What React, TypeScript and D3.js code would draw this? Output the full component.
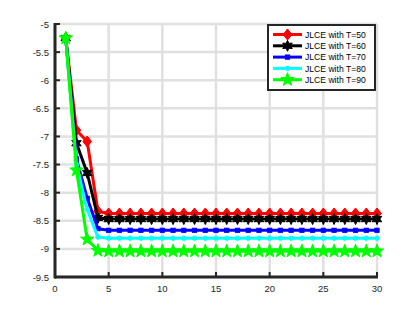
import React from "react";
import * as d3 from "d3";

const xValues = [1,2,3,4,5,6,7,8,9,10,11,12,13,14,15,16,17,18,19,20,21,22,23,24,25,26,27,28,29,30];
const seriesNames = ["JLCE with T=50", "JLCE with T=60", "JLCE with T=70", "JLCE with T=80", "JLCE with T=90"];
const colors = ["#ff0000", "#000000", "#0000ff", "#00ffff", "#00ff00"];
const markers = ["diamond", "hexagram", "square", "circle", "pentagram"];
const head50 = [-5.25, -6.89, -7.09, -8.33];
const head60 = [-5.25, -7.12, -7.65, -8.45];
const head70 = [-5.25, -7.4, -8.1, -8.64];
const head80 = [-5.25, -7.5, -8.3, -8.79];
const head90 = [-5.25, -7.6, -8.83, -9.03];
const tail50 = [-8.37,-8.37,-8.37,-8.37,-8.37,-8.37,-8.37,-8.37,-8.37,-8.37,-8.37,-8.37,-8.37,-8.37,-8.37,-8.37,-8.37,-8.37,-8.37,-8.37,-8.37,-8.37,-8.37,-8.37,-8.37,-8.37];
const tail60 = [-8.47,-8.47,-8.47,-8.47,-8.47,-8.47,-8.47,-8.47,-8.47,-8.47,-8.47,-8.47,-8.47,-8.47,-8.47,-8.47,-8.47,-8.47,-8.47,-8.47,-8.47,-8.47,-8.47,-8.47,-8.47,-8.47];
const tail70 = [-8.67,-8.67,-8.67,-8.67,-8.67,-8.67,-8.67,-8.67,-8.67,-8.67,-8.67,-8.67,-8.67,-8.67,-8.67,-8.67,-8.67,-8.67,-8.67,-8.67,-8.67,-8.67,-8.67,-8.67,-8.67,-8.67];
const tail80 = [-8.81,-8.81,-8.81,-8.81,-8.81,-8.81,-8.81,-8.81,-8.81,-8.81,-8.81,-8.81,-8.81,-8.81,-8.81,-8.81,-8.81,-8.81,-8.81,-8.81,-8.81,-8.81,-8.81,-8.81,-8.81,-8.81];
const tail90 = [-9.04,-9.04,-9.04,-9.04,-9.04,-9.04,-9.04,-9.04,-9.04,-9.04,-9.04,-9.04,-9.04,-9.04,-9.04,-9.04,-9.04,-9.04,-9.04,-9.04,-9.04,-9.04,-9.04,-9.04,-9.04,-9.04];
const seriesValues = [
  head50.concat(tail50),
  head60.concat(tail60),
  head70.concat(tail70),
  head80.concat(tail80),
  head90.concat(tail90),
];
const xTicks = [0, 5, 10, 15, 20, 25, 30];
const yTicks = [-5, -5.5, -6, -6.5, -7, -7.5, -8, -8.5, -9, -9.5];

const W = 415, H = 312;
const left = 55, right = 377, top = 24, bottom = 277;

function starPath(points: number, outer: number, inner: number): string {
  const pts: string[] = [];
  for (let i = 0; i < points * 2; i++) {
    const r = i % 2 === 0 ? outer : inner;
    const a = -Math.PI / 2 + (i * Math.PI) / points;
    pts.push(`${(r * Math.cos(a)).toFixed(2)},${(r * Math.sin(a)).toFixed(2)}`);
  }
  return "M" + pts.join("L") + "Z";
}

function Marker({ kind, color, x, y }: { kind: string; color: string; x: number; y: number }) {
  const t = `translate(${x},${y})`;
  if (kind === "diamond") return <path transform={t} d="M0,-5.5L4.3,0L0,5.5L-4.3,0Z" fill={color} stroke={color} strokeWidth={1} />;
  if (kind === "hexagram") return <path transform={t} d={starPath(6, 5.5, 2.8)} fill={color} stroke={color} strokeWidth={1} />;
  if (kind === "square") return <rect x={x - 2.2} y={y - 2.2} width={4.4} height={4.4} fill={color} stroke={color} strokeWidth={0.8} />;
  if (kind === "circle") return <circle cx={x} cy={y} r={2.3} fill={color} stroke={color} strokeWidth={0.8} />;
  return <path transform={t} d={starPath(5, 7, 2.9)} fill={color} stroke={color} strokeWidth={1} />;
}

export default function App() {
  const x = d3.scaleLinear().domain([0, 30]).range([left, right]);
  const y = d3.scaleLinear().domain([-9.5, -5]).range([bottom, top]);
  const line = d3.line<number>().x((_, i) => x(xValues[i])).y((d) => y(d));
  const font = "'Liberation Sans', Arial, sans-serif";
  const legX = 268, legY = 25, legW = 107, legH = 65;
  return (
    <svg width={W} height={H} style={{ position: "absolute", left: 0, top: 0, background: "#fff" }}>
      <rect x={0} y={0} width={W} height={H} fill="#fff" />
      {xTicks.map((t) => (
        <line key={"gx" + t} x1={x(t)} x2={x(t)} y1={top} y2={bottom} stroke="#e0e0e0" strokeWidth={2.5} />
      ))}
      {yTicks.map((t) => (
        <line key={"gy" + t} x1={left} x2={right} y1={y(t)} y2={y(t)} stroke="#e0e0e0" strokeWidth={2.5} />
      ))}
      {seriesValues.map((vals, s) => (
        <g key={"s" + s}>
          <path d={line(vals) || ""} fill="none" stroke={colors[s]} strokeWidth={3} strokeLinejoin="round" />
          {vals.map((v, i) => (
            <Marker key={i} kind={markers[s]} color={colors[s]} x={x(xValues[i])} y={y(v)} />
          ))}
        </g>
      ))}
      <line x1={left} x2={right + 1} y1={bottom} y2={bottom} stroke="#262626" strokeWidth={3} />
      <line x1={left} x2={left} y1={top - 1} y2={bottom + 1.5} stroke="#262626" strokeWidth={3} />
      {xTicks.map((t) => (
        <g key={"xt" + t}>
          <line x1={x(t)} x2={x(t)} y1={bottom} y2={bottom - 5} stroke="#262626" strokeWidth={2} />
          <text x={x(t)} y={bottom + 15} textAnchor="middle" fontSize={9.5} fontFamily={font} fill="#262626">{t}</text>
        </g>
      ))}
      {yTicks.map((t) => (
        <g key={"yt" + t}>
          <line x1={left} x2={left + 5} y1={y(t)} y2={y(t)} stroke="#262626" strokeWidth={2} />
          <text x={left - 6} y={y(t) + 3.5} textAnchor="end" fontSize={9.5} fontFamily={font} fill="#262626">{t}</text>
        </g>
      ))}
      <rect x={legX} y={legY} width={legW} height={legH} fill="#fff" stroke="#262626" strokeWidth={2} />
      {seriesNames.map((name, s) => {
        const ly = legY + 9.5 + s * 11.3;
        return (
          <g key={"l" + s}>
            <line x1={legX + 5} x2={legX + 34} y1={ly} y2={ly} stroke={colors[s]} strokeWidth={3} />
            <Marker kind={markers[s]} color={colors[s]} x={legX + 19.5} y={ly} />
            <text x={legX + 37} y={ly + 3.2} fontSize={8.6} fontFamily={font} fill="#000">{name}</text>
          </g>
        );
      })}
    </svg>
  );
}
